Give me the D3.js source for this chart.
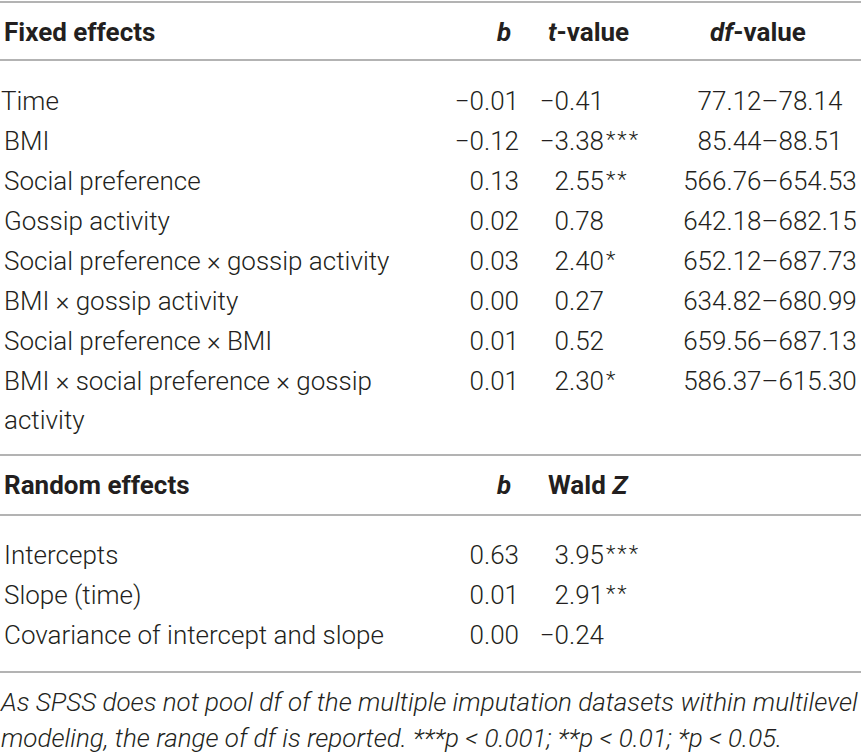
<!DOCTYPE html>
<html>
<head>
<meta charset="utf-8">
<script src="https://cdn.jsdelivr.net/npm/d3@7"></script>
<style>
  body { margin: 0; background: #fff; }
  text { font-family: Roboto, "Liberation Sans", Arial, sans-serif; fill: #231f20; }
  .hdr { font-weight: bold; font-size: 26px; }
  .cell { font-size: 26px; font-weight: 300; }
  .star { font-size: 22px; font-weight: 300; letter-spacing: 2px; }
  .note { font-size: 26px; font-style: italic; font-weight: 300; }
  .rule { stroke: #b3b3b3; stroke-width: 2; }
</style>
</head>
<body>
<svg width="861" height="756"></svg>
<script>
const fixedLabels = [
  ['Time'],
  ['BMI'],
  ['Social preference'],
  ['Gossip activity'],
  ['Social preference × gossip activity'],
  ['BMI × gossip activity'],
  ['Social preference × BMI'],
  ['BMI × social preference × gossip', 'activity']
];
const fixedB = ['−0.01', '−0.12', '0.13', '0.02', '0.03', '0.00', '0.01', '0.01'];
const fixedT = ['−0.41', '−3.38', '2.55', '0.78', '2.40', '0.27', '0.52', '2.30'];
const fixedStars = ['', '***', '**', '', '*', '', '', '*'];
const fixedDf = ['77.12–78.14', '85.44–88.51', '566.76–654.53', '642.18–682.15',
  '652.12–687.73', '634.82–680.99', '659.56–687.13', '586.37–615.30'];

const randomLabels = ['Intercepts', 'Slope (time)', 'Covariance of intercept and slope'];
const randomB = ['0.63', '0.01', '0.00'];
const randomZ = ['3.95', '2.91', '−0.24'];
const randomStars = ['***', '**', ''];

const noteLines = [
  'As SPSS does not pool df of the multiple imputation datasets within multilevel',
  'modeling, the range of df is reported. ***p < 0.001; **p < 0.01; *p < 0.05.'
];

const svg = d3.select('svg');
const width = +svg.attr('width');

// column positions
const col = { label: 4, b: 519, t: 604, df: 770 };
const rowH = 40;

// rules
[2, 60, 455, 515, 672].forEach(y => {
  svg.append('line').attr('class', 'rule')
    .attr('x1', 0).attr('x2', width).attr('y1', y).attr('y2', y);
});

// header 1
const h1 = svg.append('g').attr('transform', 'translate(0,41)');
h1.append('text').attr('class', 'hdr').attr('x', col.label).text('Fixed effects');
h1.append('text').attr('class', 'hdr').attr('x', 504).attr('text-anchor', 'middle')
  .style('font-style', 'italic').text('b');
const tv = h1.append('text').attr('class', 'hdr').attr('x', 548);
tv.append('tspan').style('font-style', 'italic').text('t');
tv.append('tspan').text('-value');
const dv = h1.append('text').attr('class', 'hdr').attr('x', 758).attr('text-anchor', 'middle');
dv.append('tspan').style('font-style', 'italic').text('df');
dv.append('tspan').text('-value');

// fixed rows
const yFixed = d3.scaleLinear().domain([0, 1]).range([110, 110 + rowH]);
const fixedRows = svg.append('g').selectAll('g').data(fixedLabels).join('g')
  .attr('transform', (d, i) => `translate(0,${yFixed(i)})`);

fixedRows.each(function (lines, i) {
  const g = d3.select(this);
  lines.forEach((ln, k) => {
    g.append('text').attr('class', 'cell').attr('x', i === 0 ? 1 : col.label)
      .attr('y', k * 39).text(ln);
  });
  g.append('text').attr('class', 'cell').attr('x', col.b).attr('text-anchor', 'end').text(fixedB[i]);
  g.append('text').attr('class', 'cell').attr('x', col.t).attr('text-anchor', 'end').text(fixedT[i]);
  g.append('text').attr('class', 'star').attr('x', col.t + 2).attr('dy', -3).text(fixedStars[i]);
  g.append('text').attr('class', 'cell').attr('x', col.df).attr('text-anchor', 'middle').text(fixedDf[i]);
});

// header 2
const h2 = svg.append('g').attr('transform', 'translate(0,494)');
h2.append('text').attr('class', 'hdr').attr('x', col.label).text('Random effects');
h2.append('text').attr('class', 'hdr').attr('x', 504).attr('text-anchor', 'middle')
  .style('font-style', 'italic').text('b');
const wz = h2.append('text').attr('class', 'hdr').attr('x', 548);
wz.append('tspan').text('Wald ');
wz.append('tspan').style('font-style', 'italic').text('Z');

// random rows
const yRandom = d3.scaleLinear().domain([0, 1]).range([564, 564 + rowH]);
const randRows = svg.append('g').selectAll('g').data(randomLabels).join('g')
  .attr('transform', (d, i) => `translate(0,${yRandom(i)})`);
randRows.each(function (lab, i) {
  const g = d3.select(this);
  g.append('text').attr('class', 'cell').attr('x', col.label).text(lab);
  g.append('text').attr('class', 'cell').attr('x', col.b).attr('text-anchor', 'end').text(randomB[i]);
  g.append('text').attr('class', 'cell').attr('x', col.t).attr('text-anchor', 'end').text(randomZ[i]);
  g.append('text').attr('class', 'star').attr('x', col.t + 2).attr('dy', -3).text(randomStars[i]);
});

// footnote
svg.append('g').selectAll('text').data(noteLines).join('text')
  .attr('class', 'note').attr('x', 1)
  .attr('y', (d, i) => 711 + i * 36)
  .text(d => d);
</script>
</body>
</html>
